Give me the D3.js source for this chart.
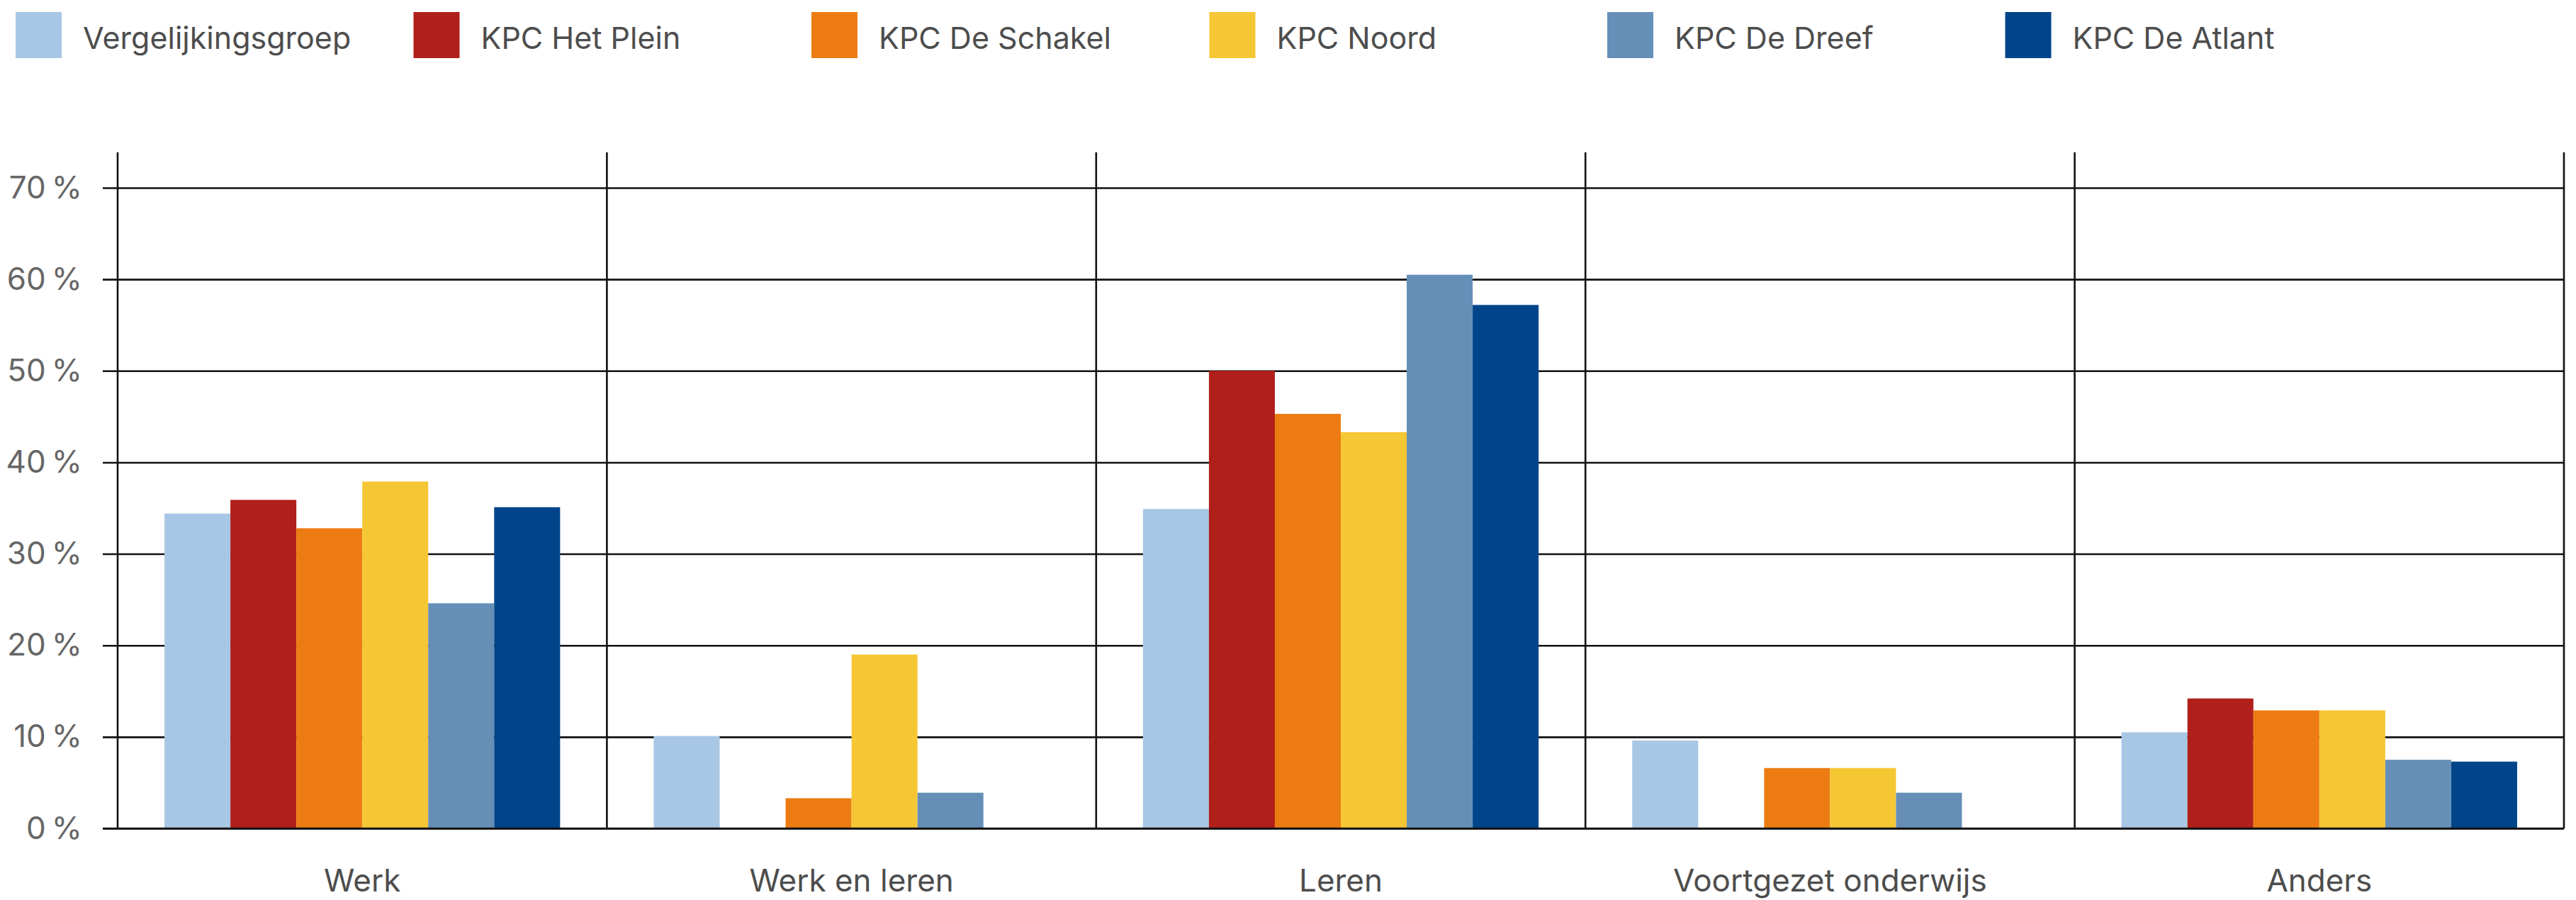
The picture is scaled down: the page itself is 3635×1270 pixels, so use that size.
<!DOCTYPE html>
<html>
<head>
<meta charset="utf-8">
<script src="https://cdn.jsdelivr.net/npm/d3@7"></script>
<style>
  body { margin: 0; background: #fff; }
  text { font-family: Inter, "Noto Sans", sans-serif; }
</style>
</head>
<body>
<div id="chart"></div>
<script>
"use strict";
// chart data
const categories = ["Werk", "Werk en leren", "Leren", "Voortgezet onderwijs", "Anders"];
const seriesNames = ["Vergelijkingsgroep", "KPC Het Plein", "KPC De Schakel", "KPC Noord", "KPC De Dreef", "KPC De Atlant"];
const seriesColors = ["#a8c7e5", "#b01f1a", "#ec7c12", "#f6c734", "#668fb8", "#004589"];
const vergelijkingsgroep = [34.4, 10.1, 34.9, 9.6, 10.5];
const hetPlein = [35.9, 0, 50.0, 0, 14.2];
const deSchakel = [32.8, 3.3, 45.3, 6.6, 12.9];
const noord = [37.9, 19.0, 43.3, 6.6, 12.9];
const deDreef = [24.6, 3.9, 60.5, 3.9, 7.5];
const deAtlant = [35.1, 0, 57.2, 0, 7.3];
const yTicks = [0, 10, 20, 30, 40, 50, 60, 70];

const seriesValues = [vergelijkingsgroep, hetPlein, deSchakel, noord, deDreef, deAtlant];

const width = 3635, height = 1270;
const plotLeft = 166, plotRight = 3618, plotTop = 265, plotBottom = 1169;

const svg = d3.select("#chart").append("svg")
    .attr("width", width)
    .attr("height", height);

const x0 = d3.scaleBand().domain(categories).range([plotLeft, plotRight]).padding(0);
const x1 = d3.scaleBand().domain(seriesNames).range([0, x0.bandwidth()]).paddingOuter(0.71).paddingInner(0);
const y = d3.scaleLinear().domain([0, 70]).range([plotBottom, plotTop]);

// horizontal gridlines + y labels
const yAxis = svg.append("g")
    .attr("transform", `translate(${plotRight},0)`)
    .call(d3.axisLeft(y).tickValues(yTicks).tickSize(plotRight - 145).tickPadding(29)
        .tickFormat(d => d + "\u2009%"));
yAxis.select(".domain").remove();
yAxis.selectAll("line").attr("stroke", "#111").attr("stroke-width", 2.6);
yAxis.selectAll("text").attr("fill", "#666").attr("font-size", 44);

// bars
const rows = categories.map((c, i) => ({ cat: c, vals: seriesNames.map((s, j) => ({ s, v: seriesValues[j][i], color: seriesColors[j] })) }));
svg.append("g").selectAll("g")
    .data(rows)
    .join("g")
    .attr("transform", d => `translate(${x0(d.cat)},0)`)
    .selectAll("rect")
    .data(d => d.vals.filter(e => e.v > 0))
    .join("rect")
    .attr("x", d => x1(d.s))
    .attr("y", d => y(d.v))
    .attr("width", x1.bandwidth())
    .attr("height", d => y(0) - y(d.v))
    .attr("fill", d => d.color);

// vertical separators between categories
const edges = categories.map(c => x0(c)).concat([plotRight]);
svg.append("g").selectAll("line")
    .data(edges)
    .join("line")
    .attr("x1", d => d).attr("x2", d => d)
    .attr("y1", 215).attr("y2", plotBottom)
    .attr("stroke", "#111").attr("stroke-width", 2.6);

// baseline on top of bars
svg.append("line")
    .attr("x1", 145).attr("x2", plotRight)
    .attr("y1", y(0)).attr("y2", y(0))
    .attr("stroke", "#111").attr("stroke-width", 2.6);

// category labels
const xAxis = svg.append("g")
    .attr("transform", `translate(0,${plotBottom})`)
    .call(d3.axisBottom(x0).tickSize(0).tickPadding(58));
xAxis.select(".domain").remove();
xAxis.selectAll("text").attr("fill", "#4d4d4d").attr("font-size", 44);

// legend
const legend = svg.append("g").selectAll("g")
    .data(seriesNames)
    .join("g")
    .attr("transform", (d, i) => `translate(${22 + i * 561.5},17)`);
legend.append("rect")
    .attr("width", 65).attr("height", 65)
    .attr("fill", (d, i) => seriesColors[i]);
legend.append("text")
    .attr("x", 95).attr("y", 52)
    .attr("fill", "#4d4d4d")
    .attr("font-size", 43)
    .text(d => d);
</script>
</body>
</html>
